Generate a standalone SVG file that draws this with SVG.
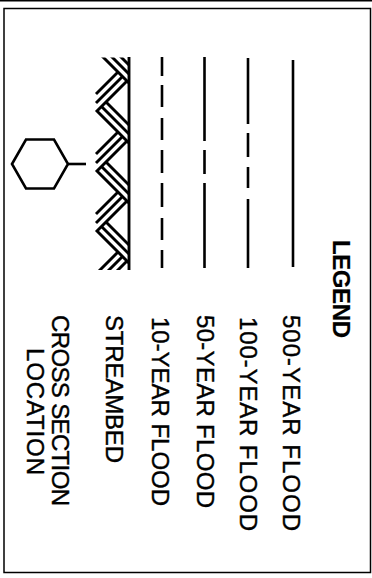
<svg xmlns="http://www.w3.org/2000/svg" width="372" height="578" viewBox="0 0 372 578">
<style>
.frame{fill:none;stroke:#000;stroke-width:1.5}
.ln{fill:none;stroke:#000;stroke-width:2.6;stroke-linecap:butt}
.hb{fill:none;stroke:#000;stroke-width:2.9;stroke-linecap:butt}
.hx{fill:none;stroke:#000;stroke-width:2.6;stroke-linejoin:miter}
.t{font-family:"Liberation Sans",Arial,Helvetica,sans-serif;font-size:24px;fill:#000;stroke:#000;stroke-width:0.4}
.h{font-weight:bold;stroke-width:0.2}
</style>
<defs>
<clipPath id="sbclip"><rect x="94" y="57.5" width="35" height="212.5"/></clipPath>
<g id="chev">
<path class="hb" d="M30 -30L0 0L32 32" stroke-linejoin="miter"/>
<path class="hb" d="M-1 -8L25.5 -34.5M-1 -17L21 -39"/>
<path class="hb" d="M4.5 -4.5L32 23M9 -9L32 14"/>
</g>
</defs>
<rect width="372" height="578" fill="#fff"/>
<line x1="0" y1="0.8" x2="372" y2="0.8" stroke="#000" stroke-width="1.6"/>
<rect class="frame" x="4" y="8.5" width="366.5" height="564"/>

<g id="connectors">
<g id="sym-500"><path class="ln" d="M293 60V267"/></g>
<g id="sym-100"><path class="ln" d="M248 58V124M248 133V157M248 167V188M248 199V268"/></g>
<g id="sym-50"><path class="ln" d="M204.5 57V141M204.5 150V174M204.5 183V268"/></g>
<g id="sym-10"><path class="ln" d="M162 57V76M162 85V107M162 118V140M162 150V173M162 183V207M162 218V240M162 250V268"/></g>
</g>

<g id="sym-streambed">
<g clip-path="url(#sbclip)">
<use href="#chev" transform="translate(97,51)"/>
<use href="#chev" transform="translate(97,111)"/>
<use href="#chev" transform="translate(97,171)"/>
<use href="#chev" transform="translate(97,231)"/>
<use href="#chev" transform="translate(97,291)"/>
</g>
<path class="hb" d="M129 57V270"/>
</g>

<g id="sym-cross-section">
<polygon class="hx" points="12,164 26,139.5 54,139.5 68,164 54,188.5 26,188.5"/>
<path class="ln" d="M68 164H86"/>
</g>

<g id="legend-title"><text class="t h" transform="translate(333,240) rotate(90)" textLength="98">LEGEND</text></g>
<g id="label-500"><text class="t" transform="translate(283,315) rotate(90)" textLength="216">500-YEAR FLOOD</text></g>
<g id="label-100"><text class="t" transform="translate(240,317) rotate(90)" textLength="214">100-YEAR FLOOD</text></g>
<g id="label-50"><text class="t" transform="translate(197,315) rotate(90)" textLength="193">50-YEAR FLOOD</text></g>
<g id="label-10"><text class="t" transform="translate(152,317) rotate(90)" textLength="189">10-YEAR FLOOD</text></g>
<g id="label-streambed"><text class="t" transform="translate(106,315) rotate(90)" textLength="148">STREAMBED</text></g>
<g id="label-cross-section">
<text class="t" transform="translate(52,315) rotate(90)" textLength="191">CROSS SECTION</text>
<text class="t" text-anchor="middle" transform="translate(27,411.5) rotate(90)" textLength="127">LOCATION</text>
</g>
</svg>
